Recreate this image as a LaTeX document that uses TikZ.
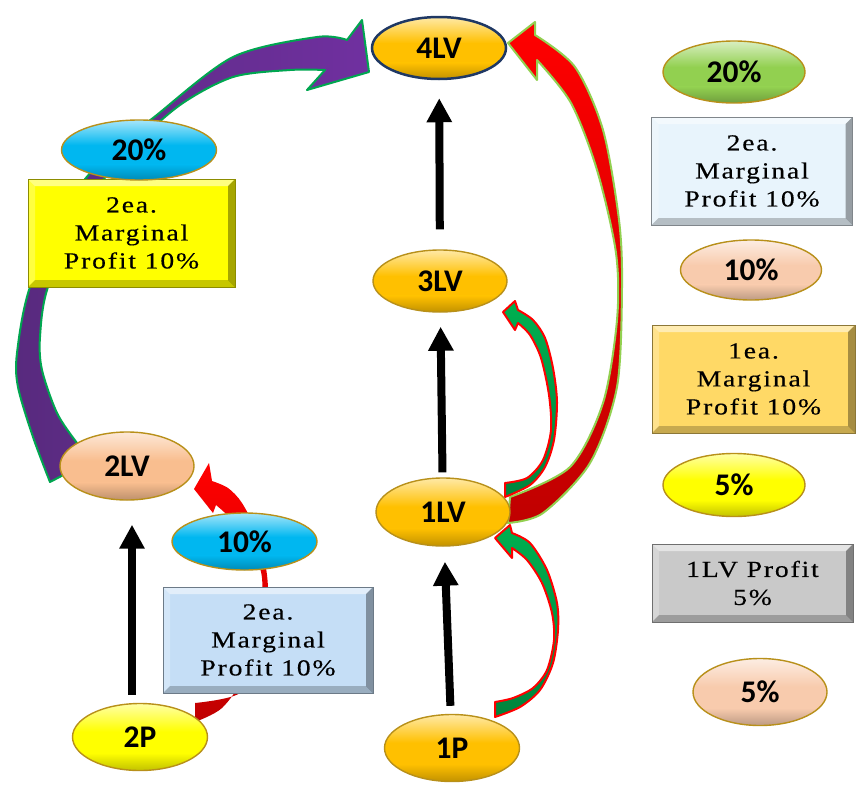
\documentclass[tikz,border=0pt]{standalone}
\usepackage{fontspec}
\setmainfont{Liberation Serif}
\newfontfamily\ellfamily{Carlito}
\newfontfamily\boxfamily[FakeStretch=1.2, LetterSpace=8, FakeBold=0.4]{Liberation Serif}
\usetikzlibrary{shapes.geometric,calc,arrows.meta}
\definecolor{gold}{HTML}{FFC000}
\definecolor{goldrim}{HTML}{B8901A}
\definecolor{navyrim}{HTML}{1F3864}
\definecolor{peachA}{HTML}{F9BE8F}
\definecolor{peachB}{HTML}{F8CBAD}
\definecolor{yel}{HTML}{FFFF00}
\definecolor{sky}{HTML}{00B7F0}
\definecolor{lgreen}{HTML}{92D050}
\definecolor{boxyel}{HTML}{FFFF00}
\definecolor{boxblue}{HTML}{C5DEF6}
\definecolor{boxpale}{HTML}{E8F4FC}
\definecolor{boxgold}{HTML}{FFD966}
\definecolor{boxgray}{HTML}{C9C9C9}
\definecolor{purL}{HTML}{7030A0}
\definecolor{purD}{HTML}{582A7E}
\definecolor{edgegreen}{HTML}{00A650}
\definecolor{redD}{HTML}{C00000}
\definecolor{grnL}{HTML}{00B050}
\definecolor{grnD}{HTML}{00843D}
\tikzset{
  ell/.style={ellipse, inner sep=0pt, fill=#1, draw=goldrim, line width=1.4pt,
    font=\ellfamily\bfseries\fontsize{31.5}{31.5}\selectfont,
    path picture={
      \path (path picture bounding box.north west) coordinate (pnw)
            (path picture bounding box.south east) coordinate (pse);
      \coordinate (pa) at ($(pnw)!0.42!(pse)$);
      \coordinate (pb) at ($(pnw)!0.74!(pse)$);
      \shade[top color=#1!35!white, bottom color=#1] (pnw) rectangle (pse |- pa);
      \shade[top color=#1, bottom color=#1!76!black] (pnw |- pb) rectangle (pse);
    }},
  bbox/.style={rectangle, inner sep=0pt, fill=#1, draw=#1!55!black, line width=0.6pt,
    align=center, font=\boxfamily\fontsize{23}{28}\selectfont,
    path picture={
      \path (path picture bounding box.north west) coordinate (bnw)
            (path picture bounding box.north east) coordinate (bne)
            (path picture bounding box.south west) coordinate (bsw)
            (path picture bounding box.south east) coordinate (bse);
      \fill[white, opacity=.5] (bnw) -- (bne) -- ([shift={(-7pt,-7pt)}]bne) -- ([shift={(7pt,-7pt)}]bnw) -- cycle;
      \fill[white, opacity=.25] (bnw) -- ([shift={(7pt,-7pt)}]bnw) -- ([shift={(7pt,7pt)}]bsw) -- (bsw) -- cycle;
      \fill[black, opacity=.35] (bne) -- (bse) -- ([shift={(-7pt,7pt)}]bse) -- ([shift={(-7pt,-7pt)}]bne) -- cycle;
      \fill[black, opacity=.22] (bsw) -- (bse) -- ([shift={(-7pt,7pt)}]bse) -- ([shift={(7pt,7pt)}]bsw) -- cycle;
    }},
  barrow/.style={black, line width=8pt, -{Triangle[width=24pt,length=24pt]}},
  blockedge/.style={line width=2pt, line join=round}
}
\begin{document}
\begin{tikzpicture}[x=1pt, y=-1pt]
\fill[white] (0,0) rectangle (856,787);
\useasboundingbox (0,0) rectangle (856,787);

% purple curved arrow 2LV -> 4LV
\path[blockedge, left color=purD, right color=purL, draw=edgegreen]
  plot[smooth] coordinates {(50,482) (33,437) (18,387) (17,353) (30,287) (70,200) (112,150) (153,118) (233,57) (317,37) (347,40)}
  -- (362,20) -- (369,72) -- (307,90) -- (325,70)
  -- plot[smooth] coordinates {(325,70) (290,70) (233,77) (180,105) (130,150) (85,205) (48,287) (40,337) (42,370) (57,413) (77,443) (92,460)}
  -- cycle;

% big red arrow 1LV -> 4LV
\path[blockedge, top color=red, middle color=red, bottom color=redD, draw=lgreen]
  plot[smooth] coordinates {(508,523) (543,513) (590,463) (617,387) (622,287) (619,220) (603,130) (575,67) (535,35)}
  -- (535,22) -- (508,43) -- (537,80) -- (537,60)
  -- plot[smooth] coordinates {(537,60) (571,103) (597,170) (616,253) (617,320) (603,403) (570,467) (510,497)}
  -- cycle;

% green arrow 1LV -> 3LV
\path[blockedge, top color=grnL, bottom color=grnD, draw=red]
  plot[smooth] coordinates {(505,497) (530,485) (545,467) (554,440) (557,402) (553,368) (545,338) (533,320) (518,310)}
  -- (515,301) -- (503,312) -- (515,330) -- (518,323)
  -- plot[smooth] coordinates {(518,323) (530,335) (541,358) (549,395) (551,430) (543,460) (527,478) (505,483)}
  -- cycle;

% green arrow 1P -> 1LV
\path[blockedge, top color=grnL, bottom color=grnD, draw=red]
  plot[smooth] coordinates {(495,717) (520,707) (540,690) (553,663) (558,630) (557,603) (547,570) (530,543) (512,533)}
  -- (510,525) -- (495,538) -- (512,558) -- (512,548)
  -- plot[smooth] coordinates {(512,548) (527,560) (542,583) (552,613) (554,640) (547,670) (533,688) (513,698) (495,702)}
  -- cycle;

% red arrow 2P -> 2LV
\path[top color=red, middle color=red, bottom color=redD]
  plot[smooth] coordinates {(195,703) (240,693) (262,655) (268,615) (267,575) (258,535) (242,503) (228,488) (212,481)}
  -- (209,463) -- (194,489) -- (213,513) -- (216,505)
  -- plot[smooth] coordinates {(216,505) (232,520) (252,548) (262,578) (260,625) (245,675) (222,708) (195,722)}
  -- cycle;

% left column
\node[bbox=boxyel, minimum width=207pt, minimum height=108pt] (lb1) at (131.5,233) {2ea.\\Marginal\\Profit 10\%};
\node[ell=sky, minimum width=155pt, minimum height=60pt] (l20) at (139,150) {20\%};
\node[ell=peachA, minimum width=134pt, minimum height=68pt] (n2LV) at (127,466) {2LV};
\node[ell=yel, minimum width=135pt, minimum height=67pt] (n2P) at (140,737) {2P};
\node[ell=sky, minimum width=145pt, minimum height=57pt] (l10) at (244.5,541.5) {10\%};
\node[bbox=boxblue, minimum width=210pt, minimum height=106pt] (lb2) at (268,640) {2ea.\\Marginal\\Profit 10\%};

% centre column
\node[ell=gold, draw=navyrim, line width=2.5pt, minimum width=134pt, minimum height=62pt] (n4LV) at (439,48) {4LV};
\node[ell=gold, minimum width=134pt, minimum height=62pt] (n3LV) at (440,281) {3LV};
\node[ell=gold, minimum width=134pt, minimum height=68pt] (n1LV) at (443,512) {1LV};
\node[ell=gold, minimum width=135pt, minimum height=67pt] (n1P) at (452,748) {1P};

% right column (legend)
\node[ell=lgreen, minimum width=142pt, minimum height=62pt] (r20) at (734,72) {20\%};
\node[bbox=boxpale, minimum width=201pt, minimum height=108pt] (rb1) at (752,171) {2ea.\\Marginal\\Profit 10\%};
\node[ell=peachB, minimum width=141pt, minimum height=60pt] (r10) at (751,270) {10\%};
\node[bbox=boxgold, minimum width=203pt, minimum height=108pt] (rb2) at (753.5,379) {1ea.\\Marginal\\Profit 10\%};
\node[ell=yel, minimum width=142pt, minimum height=63pt] (r5) at (734,485) {5\%};
\node[bbox=boxgray, minimum width=201pt, minimum height=78pt] (rb3) at (752.5,583) {1LV Profit\\5\%};
\node[ell=peachB, minimum width=134pt, minimum height=67pt] (r5b) at (760,692) {5\%};

% black arrows
\draw[barrow, shorten <=8pt, shorten >=15pt] (n1P) -- (n1LV);
\draw[barrow, shorten <=5pt, shorten >=14pt] (n1LV) -- (n3LV);
\draw[barrow, shorten <=20pt, shorten >=18pt] (n3LV) -- (n4LV);
\draw[barrow, shorten <=8pt, shorten >=24pt] ([xshift=-8pt]n2P.north) -- ([xshift=5pt]n2LV.south);
\end{tikzpicture}
\end{document}
